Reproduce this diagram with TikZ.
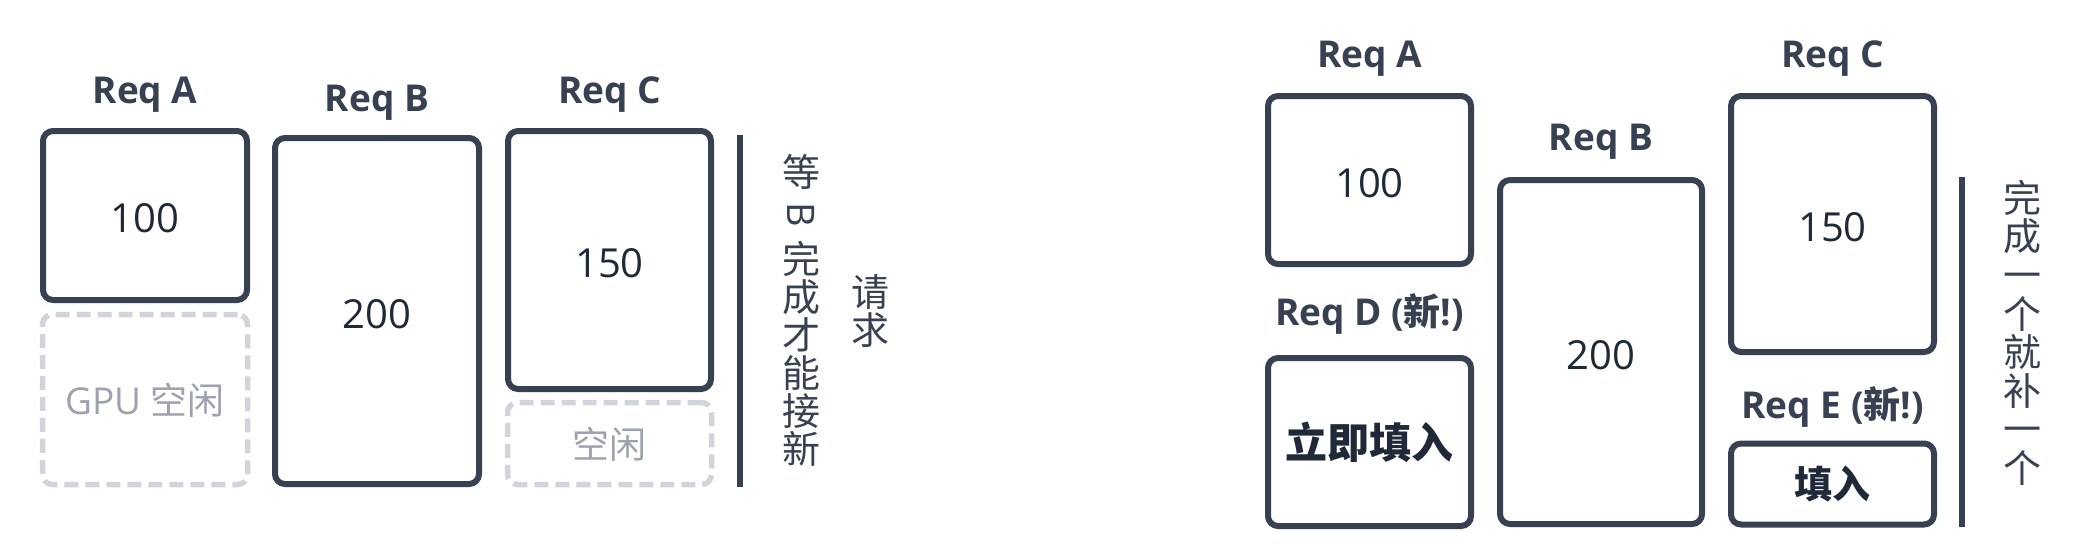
\documentclass[tikz,border=0pt]{standalone}
\usepackage{fontspec}
\setmainfont{Open Sans}
\newfontfamily\cjk{Noto Sans CJK SC}
\definecolor{strokec}{HTML}{374151}
\definecolor{numc}{HTML}{1F2937}
\definecolor{labelc}{HTML}{374151}
\definecolor{idlec}{HTML}{D1D5DB}
\definecolor{idletext}{HTML}{9CA3AF}
\begin{document}
\begin{tikzpicture}[x=1pt,y=-1pt,
  reqbox/.style={draw=strokec, line width=6pt, rounded corners=10pt, fill=white,
    inner sep=0pt, text=numc, font=\fontsize{40}{46}\selectfont,
    text height=34.6pt, text depth=0pt},
  fillbox/.style={draw=strokec, line width=6pt, rounded corners=10pt, fill=white,
    inner sep=0pt, text=numc},
  idlebox/.style={draw=idlec, line width=5.5pt, dash pattern=on 14pt off 7pt,
    rounded corners=10pt, inner sep=0pt, text=idletext,
    font=\fontsize{37}{44}\selectfont, text height=32pt, text depth=3pt},
  lbl/.style={font=\bfseries\fontsize{37}{44}\selectfont, text=labelc, anchor=base, inner sep=0pt},
  vt/.style={font=\cjk\fontsize{38}{38}\selectfont, text=strokec,
    text height=33.4pt, text depth=4.6pt, inner sep=0pt},
  sepline/.style={draw=strokec, line width=6.5pt}
]
\useasboundingbox (0,0) rectangle (2085,555);

% ---------- left panel ----------
\node[reqbox, minimum width=204, minimum height=169] (LA) at (145,215.5) {100};
\node[idlebox, minimum width=205, minimum height=170] (LAidle) at (145,399.5) {GPU {\cjk 空闲}};
\node[reqbox, minimum width=204, minimum height=346] (LB) at (377,311) {200};
\node[reqbox, minimum width=203, minimum height=258] (LC) at (609.5,260) {150};
\node[idlebox, minimum width=204, minimum height=82] (LCidle) at (609.5,443.5) {\cjk 空闲};

\node[lbl] (LAl) at (145,103) {Req A};
\node[lbl] (LBl) at (377,111) {Req B};
\node[lbl] (LCl) at (609.5,103) {Req C};

\coordinate (S1t) at (740,135);
\coordinate (S1b) at (740,487);
\draw[sepline] (S1t) -- (S1b);

\node[vt] (v1a) at (801,172) {等};
\node[font=\fontsize{38}{38}\selectfont, text=strokec, inner sep=0pt, rotate=-90] (v1b) at (801,215) {B};
\foreach \ch [count=\i] in {完,成,才,能,接,新}
  \node[vt] (v1c\i) at (801,{259+38*(\i-1)}) {\ch};
\node[vt] (v2a) at (870,292) {请};
\node[vt] (v2b) at (870,330) {求};

% ---------- right panel ----------
\node[reqbox, minimum width=203, minimum height=168] (RA) at (1369.5,180) {100};
\node[fillbox, minimum width=203, minimum height=168,
      font=\cjk\bfseries\fontsize{42}{48}\selectfont,
      text height=37pt, text depth=5pt] (RD) at (1369.5,442) {立即填入};
\node[reqbox, minimum width=202, minimum height=344] (RB) at (1601,352) {200};
\node[reqbox, minimum width=203, minimum height=256] (RC) at (1832.5,224) {150};
\node[fillbox, minimum width=203, minimum height=81,
      font=\cjk\bfseries\fontsize{38}{44}\selectfont,
      text height=33.4pt, text depth=4.6pt] (RE) at (1832.5,484) {填入};

\node[lbl] (RAl) at (1369.5,67) {Req A};
\node[lbl] (RBl) at (1601,150) {Req B};
\node[lbl] (RCl) at (1832.5,67) {Req C};
\node[lbl] (RDl) at (1369.5,325) {Req D ({\cjk 新}!)};
\node[lbl] (REl) at (1832.5,418) {Req E ({\cjk 新}!)};

\coordinate (S2t) at (1962,177);
\coordinate (S2b) at (1962,527);
\draw[sepline] (S2t) -- (S2b);

\foreach \ch [count=\i] in {完,成,一,个,就,补,一,个}
  \node[vt] (v3\i) at (2022,{198+38.57*(\i-1)}) {\ch};
\end{tikzpicture}
\end{document}
